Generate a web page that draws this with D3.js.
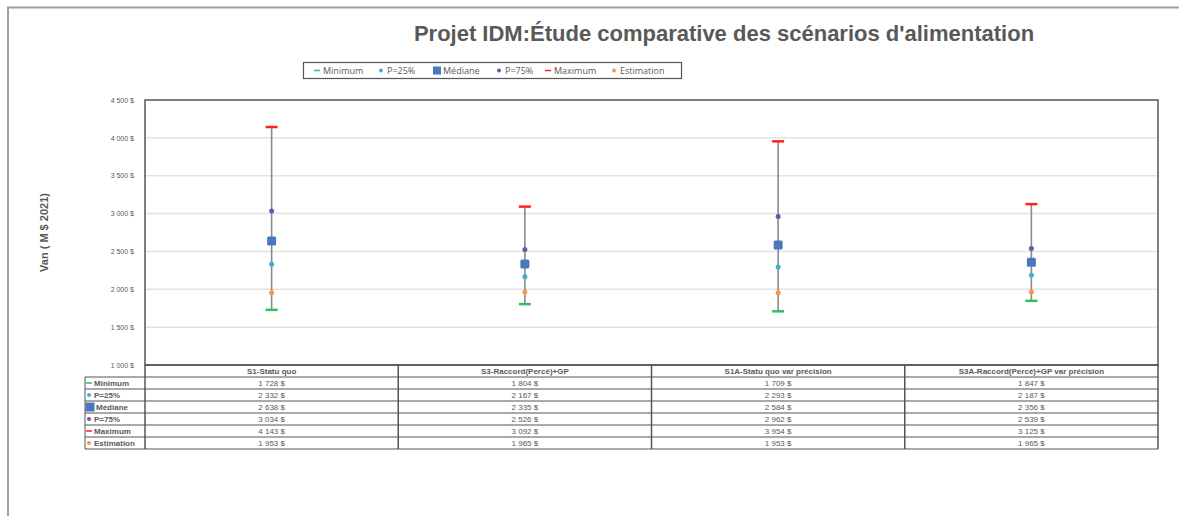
<!DOCTYPE html>
<meta charset="utf-8">
<style>
  body { margin: 0; background: #fff; }
  svg { font-family: "Liberation Sans", Arial, sans-serif; }
  .tick text { fill: #595959; font-size: 7px; }
  .grid line { stroke: #e3e3e3; stroke-width: 1.5px; }
  .tbl text { fill: #595959; font-size: 8px; }
</style>
<body>
<script src="https://d3js.org/d3.v7.min.js"></script>
<script>
  var scenarios = ["S1-Statu quo", "S3-Raccord(Percé)+GP", "S1A-Statu quo var précision", "S3A-Raccord(Percé)+GP var précision"];
  var minimum = [1728, 1804, 1709, 1847];
  var p25 = [2332, 2167, 2293, 2187];
  var mediane = [2638, 2335, 2584, 2356];
  var p75 = [3034, 2526, 2962, 2539];
  var maximum = [4143, 3092, 3954, 3125];
  var estimation = [1953, 1965, 1953, 1965];
  var yTicks = [1000, 1500, 2000, 2500, 3000, 3500, 4000, 4500];

  var series = [
    { name: "Minimum", values: minimum, color: "#2fbf5f", shape: "dash" },
    { name: "P=25%", values: p25, color: "#3fb0d0", shape: "dot" },
    { name: "Médiane", values: mediane, color: "#4a78c0", shape: "square" },
    { name: "P=75%", values: p75, color: "#7550a8", shape: "dot" },
    { name: "Maximum", values: maximum, color: "#ff2020", shape: "dash" },
    { name: "Estimation", values: estimation, color: "#f79646", shape: "dot" }
  ];

  var width = 1179, height = 516;
  var plot = { left: 145, top: 100, right: 1158, bottom: 365 };

  var svg = d3.select("body").append("svg")
    .attr("width", width)
    .attr("height", height);

  // outer frame (top + left only)
  svg.append("path")
    .attr("d", "M8,516V7.5H1179")
    .attr("fill", "none")
    .attr("stroke", "#a0a0a0")
    .attr("stroke-width", 2);

  svg.append("text")
    .attr("x", 724).attr("y", 41)
    .attr("text-anchor", "middle")
    .attr("font-size", 22).attr("font-weight", "bold")
    .attr("fill", "#595959")
    .text("Projet IDM:Étude comparative des scénarios d'alimentation");

  var x = d3.scaleBand().domain(scenarios).range([plot.left, plot.right]);
  var y = d3.scaleLinear().domain([1000, 4500]).range([plot.bottom, plot.top]);

  // gridlines
  svg.append("g").attr("class", "grid")
    .selectAll("line").data(yTicks.slice(1, -1)).enter().append("line")
    .attr("x1", plot.left).attr("x2", plot.right)
    .attr("y1", function(d) { return y(d); })
    .attr("y2", function(d) { return y(d); });

  var fmt = function(d) { return d3.format(",")(d).replace(",", " ") + " $"; };

  var yAxis = svg.append("g")
    .attr("transform", "translate(" + (plot.left - 8) + ",0)")
    .call(d3.axisLeft(y).tickValues(yTicks).tickFormat(fmt).tickSize(0));
  yAxis.select(".domain").remove();

  svg.append("text")
    .attr("transform", "translate(48," + (plot.top + plot.bottom) / 2 + ")rotate(-90)")
    .attr("text-anchor", "middle")
    .attr("font-size", 11).attr("font-weight", "bold")
    .attr("fill", "#595959")
    .text("Van ( M $ 2021)");

  // whiskers
  var g = svg.append("g");
  scenarios.forEach(function(s, i) {
    var cx = x(s) + x.bandwidth() / 2;
    g.append("line")
      .attr("x1", cx).attr("x2", cx)
      .attr("y1", y(minimum[i])).attr("y2", y(maximum[i]))
      .attr("stroke", "#8a8a8a").attr("stroke-width", 1.6);
    series.forEach(function(se) {
      var cy = y(se.values[i]);
      if (se.shape === "dash") {
        g.append("line").attr("x1", cx - 6).attr("x2", cx + 6)
          .attr("y1", cy).attr("y2", cy)
          .attr("stroke", se.color).attr("stroke-width", 2.5);
      } else if (se.shape === "square") {
        g.append("rect").attr("x", cx - 4.5).attr("y", cy - 4.5)
          .attr("width", 9).attr("height", 9).attr("rx", 1.5)
          .attr("fill", se.color);
      } else {
        g.append("circle").attr("cx", cx).attr("cy", cy).attr("r", 2.5)
          .attr("fill", se.color);
      }
    });
  });

  // plot frame
  svg.append("rect")
    .attr("x", plot.left).attr("y", plot.top)
    .attr("width", plot.right - plot.left).attr("height", plot.bottom - plot.top)
    .attr("fill", "none").attr("stroke", "#555").attr("stroke-width", 1.5);

  // data table
  var rowH = 12, tblTop = plot.bottom, legLeft = 85;
  var tbl = svg.append("g").attr("class", "tbl");
  var tblBottom = tblTop + rowH * (series.length + 1);

  scenarios.forEach(function(s) {
    tbl.append("text")
      .attr("x", x(s) + x.bandwidth() / 2).attr("y", tblTop + 9)
      .attr("text-anchor", "middle").attr("font-weight", "bold")
      .text(s);
  });
  series.forEach(function(se, r) {
    var ry = tblTop + rowH * (r + 1);
    scenarios.forEach(function(s, i) {
      tbl.append("text")
        .attr("x", x(s) + x.bandwidth() / 2).attr("y", ry + 9)
        .attr("text-anchor", "middle")
        .text(fmt(se.values[i]));
    });
    drawKey(tbl, se, legLeft + 4, ry + rowH / 2);
    tbl.append("text")
      .attr("x", legLeft + (se.shape === "square" ? 11 : 9)).attr("y", ry + 9)
      .attr("font-weight", "bold")
      .text(se.name);
  });

  // table lines
  var lines = tbl.append("g").attr("stroke", "#555").attr("fill", "none");
  d3.range(series.length + 2).forEach(function(r) {
    var ly = tblTop + rowH * r;
    lines.append("line")
      .attr("x1", r === 0 ? plot.left : legLeft).attr("x2", plot.right)
      .attr("y1", ly).attr("y2", ly)
      .attr("stroke-width", r === 0 ? 1.5 : 1);
  });
  scenarios.forEach(function(s) {
    lines.append("line")
      .attr("x1", x(s)).attr("x2", x(s))
      .attr("y1", tblTop).attr("y2", tblBottom).attr("stroke-width", 1.5);
  });
  lines.append("line").attr("x1", plot.right).attr("x2", plot.right)
    .attr("y1", tblTop).attr("y2", tblBottom).attr("stroke-width", 1.5);
  lines.append("line").attr("x1", legLeft).attr("x2", legLeft)
    .attr("y1", tblTop + rowH).attr("y2", tblBottom).attr("stroke-width", 1);

  function drawKey(sel, se, kx, ky) {
    if (se.shape === "dash") {
      sel.append("line").attr("x1", kx - 3).attr("x2", kx + 3)
        .attr("y1", ky).attr("y2", ky)
        .attr("stroke", se.color).attr("stroke-width", 1.5);
    } else if (se.shape === "square") {
      sel.append("rect").attr("x", kx - 3.5).attr("y", ky - 4.5)
        .attr("width", 9).attr("height", 9).attr("fill", se.color);
    } else {
      sel.append("circle").attr("cx", kx).attr("cy", ky).attr("r", 2)
        .attr("fill", se.color);
    }
  }

  // top legend
  var leg = svg.append("g");
  leg.append("rect")
    .attr("x", 303.5).attr("y", 62.5).attr("width", 378).attr("height", 16)
    .attr("fill", "#fff").attr("stroke", "#555").attr("stroke-width", 1.2);
  var legX = [317, 381, 437, 499, 548, 614];
  series.forEach(function(se, i) {
    var kx = legX[i];
    if (se.shape === "square") {
      leg.append("rect").attr("x", kx - 4).attr("y", 66.5)
        .attr("width", 8).attr("height", 8).attr("fill", se.color);
    } else if (se.shape === "dash") {
      leg.append("line").attr("x1", kx - 3).attr("x2", kx + 3)
        .attr("y1", 70.5).attr("y2", 70.5)
        .attr("stroke", se.color).attr("stroke-width", 1.5);
    } else {
      leg.append("circle").attr("cx", kx).attr("cy", 70.5).attr("r", 2)
        .attr("fill", se.color);
    }
    leg.append("text")
      .attr("x", kx + 6).attr("y", 74)
      .attr("font-size", 9).attr("fill", "#595959")
      .attr("font-family", "'Open Sans', sans-serif")
      .text(se.name);
  });
</script>
</body>
</html>
